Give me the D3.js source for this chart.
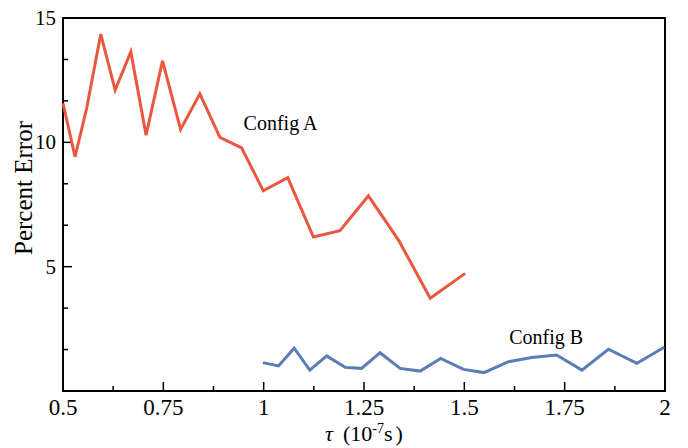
<!DOCTYPE html>
<html><head><meta charset="utf-8">
<script src="https://cdn.jsdelivr.net/npm/d3@7"></script>
<style>
html,body{margin:0;padding:0;background:#fff;}
svg text{font-family:"Liberation Serif","DejaVu Serif",serif;fill:#000;}
</style></head>
<body>
<svg id="chart" width="688" height="448"></svg>
<script>
const configAX = [0.5,0.530,0.559,0.594,0.630,0.669,0.707,0.748,0.793,0.841,0.891,0.945,0.999,1.060,1.124,1.190,1.261,1.336,1.415,1.502];
const configAY = [11.57,9.42,11.37,14.35,12.10,13.64,10.29,13.28,10.52,11.95,10.20,9.78,8.05,8.58,6.19,6.45,7.85,6.07,3.73,4.73];
const configBX = [0.998,1.037,1.076,1.115,1.157,1.203,1.244,1.290,1.340,1.390,1.441,1.498,1.549,1.610,1.668,1.730,1.793,1.859,1.930,1.998];
const configBY = [1.14,1.01,1.72,0.84,1.41,0.95,0.91,1.54,0.91,0.80,1.31,0.87,0.74,1.18,1.35,1.45,0.84,1.68,1.11,1.76];
const xTickLabels = ["0.5","0.75","1","1.25","1.5","1.75","2"];
const xTickValues = [0.5,0.75,1,1.25,1.5,1.75,2];
const yTickValues = [5,10,15];
const seriesNames = ["Config A","Config B"];

const svg = d3.select("#chart");
const L=63, R=665, T=18, B=391;
const x = d3.scaleLinear().domain([0.5,2]).range([L,R]);
const y = d3.scaleLinear().domain([0,15]).range([B,T]);

// frame
svg.append("rect").attr("x",L).attr("y",T).attr("width",R-L).attr("height",B-T)
  .attr("fill","none").attr("stroke","#000").attr("stroke-width",2);

// x ticks
const xMinor = d3.range(0.625,2,0.25);
const xAxis = svg.append("g");
xAxis.selectAll("line.maj").data(xTickValues).enter().append("line")
  .attr("x1",d=>x(d)).attr("x2",d=>x(d)).attr("y1",B).attr("y2",B-9)
  .attr("stroke","#000").attr("stroke-width",1.5);
xAxis.selectAll("line.min").data(xMinor).enter().append("line")
  .attr("x1",d=>x(d)).attr("x2",d=>x(d)).attr("y1",B).attr("y2",B-5)
  .attr("stroke","#000").attr("stroke-width",1.5);
xAxis.selectAll("text").data(xTickValues).enter().append("text")
  .attr("x",d=>x(d)).attr("y",415).attr("text-anchor","middle")
  .attr("font-size",23).text((d,i)=>xTickLabels[i]);

// y ticks
const yMinor = d3.range(1,9).map(k=>k*5/3).filter(v=>Math.abs(v%5)>0.01 && Math.abs(v%5-5)>0.01);
const yAxis = svg.append("g");
yAxis.selectAll("line.maj").data(yTickValues).enter().append("line")
  .attr("x1",L).attr("x2",L+9).attr("y1",d=>y(d)).attr("y2",d=>y(d))
  .attr("stroke","#000").attr("stroke-width",1.5);
yAxis.selectAll("line.min").data(yMinor).enter().append("line")
  .attr("x1",L).attr("x2",L+5).attr("y1",d=>y(d)).attr("y2",d=>y(d))
  .attr("stroke","#000").attr("stroke-width",1.5);
yAxis.selectAll("text").data(yTickValues).enter().append("text")
  .attr("x",56).attr("y",d=>y(d)+7).attr("text-anchor","end")
  .attr("font-size",21).text(d=>d);

// lines
const line = d3.line().x(d=>x(d[0])).y(d=>y(d[1]));
const dataA = configAX.map((v,i)=>[v,configAY[i]]);
const dataB = configBX.map((v,i)=>[v,configBY[i]]);
svg.append("path").datum(dataA).attr("d",line).attr("fill","none")
  .attr("stroke","#E9573F").attr("stroke-width",3).attr("stroke-linejoin","miter");
svg.append("path").datum(dataB).attr("d",line).attr("fill","none")
  .attr("stroke","#5B7DB5").attr("stroke-width",3).attr("stroke-linejoin","miter");

// labels
svg.append("text").attr("x",x(0.95)).attr("y",y(10.5)).attr("font-size",20).text(seriesNames[0]);
svg.append("text").attr("x",x(1.612)).attr("y",y(1.9)).attr("font-size",20).text(seriesNames[1]);

// axis titles
svg.append("text").attr("transform","translate(32,188) rotate(-90)")
  .attr("text-anchor","middle").attr("font-size",25).text("Percent Error");

const xl = svg.append("text").attr("x",(L+R)/2).attr("y",441).attr("text-anchor","middle").attr("font-size",22);
xl.append("tspan").attr("font-style","italic").text("τ");
xl.append("tspan").attr("dx",10).text("(10");
xl.append("tspan").attr("font-size",14).attr("dy",-8).text("-7");
xl.append("tspan").attr("dy",8).text("s");
xl.append("tspan").attr("dx",3).text(")");
</script>
</body></html>
